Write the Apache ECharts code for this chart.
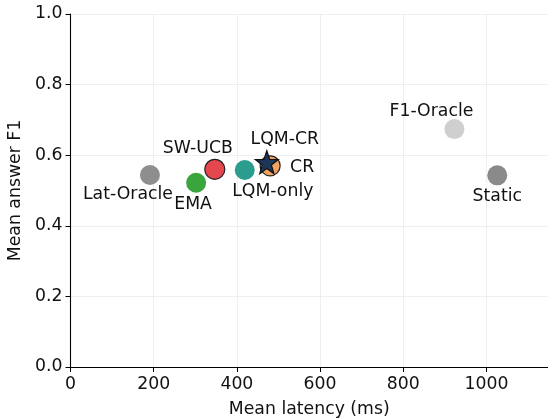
<!DOCTYPE html>
<html>
<head>
<meta charset="utf-8">
<script src="https://cdn.jsdelivr.net/npm/echarts@6/dist/echarts.min.js"></script>
<style>
  html, body { margin: 0; padding: 0; background: #fff; }
  #chart { width: 548px; height: 418px; }
</style>
</head>
<body>
<div id="chart"></div>
<script>
// 数据
const methods = ['Lat-Oracle', 'EMA', 'SW-UCB', 'LQM-only', 'CR', 'LQM-CR', 'F1-Oracle', 'Static'];
const latency = [191, 302, 347, 419, 480, 472, 923, 1026];
const meanF1 = [0.544, 0.522, 0.560, 0.558, 0.570, 0.580, 0.674, 0.543];
const xTicks = [0, 200, 400, 600, 800, 1000];
const yTicks = [0.0, 0.2, 0.4, 0.6, 0.8, 1.0];

// 样式 (颜色/标签偏移)
const styles = {
    'Lat-Oracle': { color: '#8e8e8e', border: null, symbol: 'circle', size: 20, offset: [-22, 20] },
    'EMA':        { color: '#3aa53c', border: null, symbol: 'circle', size: 20, offset: [-3, 22] },
    'SW-UCB':     { color: '#e5474f', border: '#222', symbol: 'circle', size: 20, offset: [-17, -21] },
    'LQM-only':   { color: '#2a9d8f', border: null, symbol: 'circle', size: 20, offset: [28, 21] },
    'CR':         { color: '#f4a261', border: '#222', symbol: 'circle', size: 20, offset: [32, 2] },
    'LQM-CR':     { color: '#1d3557', border: '#111', symbol: 'path://M0,-10 L2.35,-3.24 L9.51,-3.09 L3.8,1.24 L5.88,8.09 L0,4 L-5.88,8.09 L-3.8,1.24 L-9.51,-3.09 L-2.35,-3.24 Z', size: 23, offset: [18, -23] },
    'F1-Oracle':  { color: '#cfcfcf', border: null, symbol: 'circle', size: 20, offset: [-23, -18] },
    'Static':     { color: '#8a8a8a', border: null, symbol: 'circle', size: 20, offset: [0, 21] }
};

const FONT = 'DejaVu Sans';
const FS = 17.3;

const points = methods.map(function(name, i) {
    const s = styles[name];
    return {
        name: name,
        value: [latency[i], meanF1[i]],
        symbol: s.symbol,
        symbolSize: s.size,
        itemStyle: {
            color: s.color,
            borderColor: s.border || s.color,
            borderWidth: s.border ? 1.2 : 0,
            opacity: 1
        },
        label: {
            show: true,
            formatter: name,
            position: 'inside',
            offset: s.offset,
            align: 'center',
            verticalAlign: 'middle',
            color: '#111',
            fontFamily: FONT,
            fontSize: FS
        },
        z: name === 'LQM-CR' ? 5 : 3
    };
});

const chart = echarts.init(document.getElementById('chart'), null, { renderer: 'canvas' });

const axisText = { color: '#111', fontFamily: FONT, fontSize: FS };

chart.setOption({
    animation: false,
    grid: { left: 70.5, right: 0, top: 14, bottom: 51, containLabel: false, outerBoundsMode: 'none' },
    xAxis: [
        {
            type: 'value',
            min: 0,
            max: 1148,
            interval: 200,
            name: 'Mean latency (ms)',
            nameLocation: 'middle',
            nameGap: 34,
            nameTextStyle: axisText,
            axisLine: { show: true, onZero: false, lineStyle: { color: '#000', width: 1.1 } },
            axisTick: { show: true, length: 5, lineStyle: { color: '#000', width: 1 } },
            axisLabel: {
                ...axisText,
                margin: 9,
                formatter: function(v) { return xTicks.indexOf(v) >= 0 ? String(v) : ''; }
            },
            splitLine: { show: true, lineStyle: { color: '#ebebeb', width: 0.8 } }
        },
        {
            type: 'value',
            position: 'top',
            min: 0,
            max: 1148,
            axisLine: { show: true, lineStyle: { color: '#000', width: 1.1 } },
            axisTick: { show: false },
            axisLabel: { show: false },
            splitLine: { show: false }
        }
    ],
    yAxis: {
        type: 'value',
        min: 0,
        max: 1,
        interval: 0.2,
        name: 'Mean answer F1',
        nameLocation: 'middle',
        nameGap: 41,
        nameRotate: 90,
        nameTextStyle: axisText,
        axisLine: { show: true, onZero: false, lineStyle: { color: '#000', width: 1.1 } },
        axisTick: { show: true, length: 5, lineStyle: { color: '#000', width: 1 } },
        axisLabel: {
            ...axisText,
            margin: 8,
            formatter: function(v) {
                const t = yTicks.find(function(y) { return Math.abs(y - v) < 1e-9; });
                return t === undefined ? '' : t.toFixed(1);
            }
        },
        splitLine: { show: true, lineStyle: { color: '#ebebeb', width: 0.8 } }
    },
    series: [{
        type: 'scatter',
        xAxisIndex: 0,
        data: points
    }]
});
</script>
</body>
</html>
